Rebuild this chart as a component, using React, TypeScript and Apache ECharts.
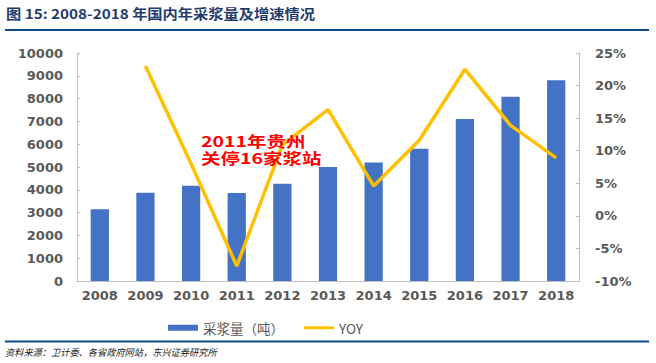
import React, { useEffect, useRef } from "react";
import * as echarts from "echarts";

const years = ["2008", "2009", "2010", "2011", "2012", "2013", "2014", "2015", "2016", "2017", "2018"];
const plasmaVolume = [3150, 3870, 4180, 3860, 4270, 5000, 5200, 5800, 7100, 8080, 8800];
const yoyPercent: (number | null)[] = [null, 23.0, 8.0, -7.7, 10.9, 16.3, 4.6, 11.6, 22.5, 13.9, 8.9];

const titleText = "图 15: 2008-2018 年国内年采浆量及增速情况";
const sourceText = "资料来源：卫计委、各省政府网站，东兴证券研究所";
const noteLines = ["2011年贵州", "关停16家浆站"];
const barName = "采浆量（吨）";
const lineName = "YOY";

export default function App() {
  const ref = useRef<HTMLDivElement>(null);
  useEffect(() => {
    if (!ref.current) return;
    const chart = echarts.init(ref.current, undefined, { renderer: "svg" });
    const axisLabel = {
      color: "#595959",
      fontSize: 13,
      fontWeight: "bold" as const,
      fontFamily: "DejaVu Sans",
    };
    chart.setOption({
      animation: false,
      backgroundColor: "#ffffff",
      grid: { left: 77, right: 77, top: 53, bottom: 82, containLabel: false },
      legend: {
        left: 163,
        top: 316,
        itemGap: 20,
        itemWidth: 30,
        itemHeight: 6,
        textStyle: { color: "#595959", fontSize: 13.5, fontFamily: "Noto Sans CJK SC" },
        data: [
          { name: barName, icon: "rect" },
          { name: lineName, icon: "path://M0,0 L30,0 L30,3 L0,3 Z" },
        ],
      },
      xAxis: {
        type: "category",
        data: years,
        axisLine: { lineStyle: { color: "#BFBFBF", width: 1 } },
        axisTick: { show: false },
        axisLabel: { ...axisLabel, margin: 8, interval: 0 },
      },
      yAxis: [
        {
          type: "value",
          min: 0,
          max: 10000,
          interval: 1000,
          splitLine: { show: false },
          axisLine: { show: true, lineStyle: { color: "#BFBFBF" } },
          axisTick: { show: true, inside: true, length: 3, lineStyle: { color: "#BFBFBF" } },
          axisLabel: { ...axisLabel, margin: 14, formatter: (v: number) => String(v) },
        },
        {
          type: "value",
          min: -10,
          max: 25,
          interval: 5,
          position: "right",
          splitLine: { show: false },
          axisLine: { show: true, lineStyle: { color: "#BFBFBF" } },
          axisTick: { show: true, inside: true, length: 3, lineStyle: { color: "#BFBFBF" } },
          axisLabel: { ...axisLabel, margin: 16, formatter: (v: number) => v + "%" },
        },
      ],
      series: [
        {
          name: barName,
          type: "bar",
          data: plasmaVolume,
          barWidth: "40%",
          itemStyle: { color: "#4472C4" },
        },
        {
          name: lineName,
          type: "line",
          yAxisIndex: 1,
          data: yoyPercent,
          symbol: "none",
          lineStyle: { color: "#FFC000", width: 3.5 },
          itemStyle: { color: "#FFC000" },
        },
      ],
      graphic: [
        {
          type: "text",
          x: 6,
          y: 6,
          scaleX: 1.13,
          style: {
            text: titleText,
            fill: "#1F3C6E",
            font: "bold 13.5px 'Noto Sans CJK SC', sans-serif",
          },
        },
        {
          type: "line",
          shape: { x1: 5, y1: 30, x2: 649, y2: 30 },
          style: { stroke: "#0B4A8B", lineWidth: 2 },
        },
        {
          type: "line",
          shape: { x1: 5, y1: 341.5, x2: 649, y2: 341.5 },
          style: { stroke: "#0B4A8B", lineWidth: 2 },
        },
        {
          type: "text",
          x: 5,
          y: 347,
          scaleX: 0.97,
          style: {
            text: sourceText,
            fill: "#222222",
            font: "italic 9.5px 'Noto Sans CJK SC', sans-serif",
          },
        },
        {
          type: "text",
          x: 201,
          y: 133,
          scaleX: 1.3,
          z: 10,
          style: {
            text: noteLines[0],
            fill: "#FF0000",
            font: "bold 15px 'Noto Sans CJK SC', sans-serif",
          },
        },
        {
          type: "text",
          x: 201,
          y: 150,
          scaleX: 1.3,
          z: 10,
          style: {
            text: noteLines[1],
            fill: "#FF0000",
            font: "bold 15px 'Noto Sans CJK SC', sans-serif",
          },
        },
      ],
    });
    return () => chart.dispose();
  }, []);
  return (
    <div
      ref={ref}
      style={{ position: "fixed", left: 0, top: 0, width: 656, height: 363, background: "#fff" }}
    />
  );
}
